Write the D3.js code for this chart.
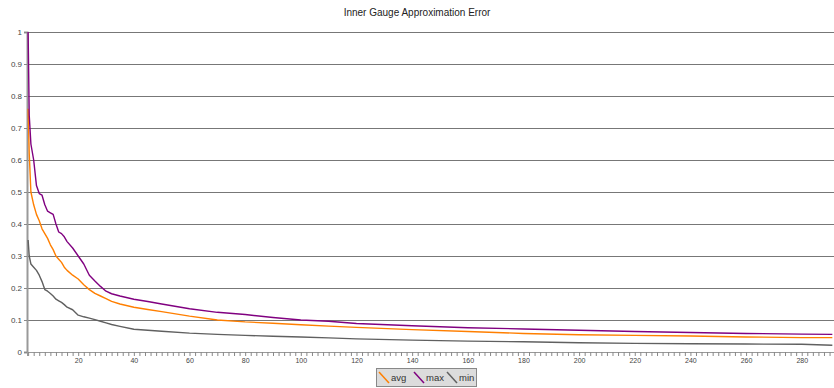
<!DOCTYPE html>
<html>
<head>
<meta charset="utf-8">
<script src="https://cdn.jsdelivr.net/npm/d3@7"></script>
<style>
  html, body { margin: 0; padding: 0; background: #fff; }
  svg { display: block; font-family: "Liberation Sans", Arial, sans-serif; }
</style>
</head>
<body>
<svg id="chart" width="834" height="388"></svg>
<script>
const title = "Inner Gauge Approximation Error";
const xs = [2, 2.4, 3, 4, 5, 6, 7, 8, 9, 10, 11, 12, 13, 14, 15, 16, 18, 20, 22, 24, 26, 28, 30, 32, 35, 40, 45, 50, 60, 70, 80, 90, 100, 110, 120, 140, 160, 180, 200, 220, 240, 260, 280, 291];
const avgValues = [0.76, 0.62, 0.50, 0.46, 0.43, 0.41, 0.385, 0.37, 0.355, 0.335, 0.32, 0.30, 0.29, 0.28, 0.265, 0.255, 0.24, 0.228, 0.21, 0.195, 0.183, 0.175, 0.167, 0.158, 0.15, 0.14, 0.133, 0.126, 0.112, 0.10, 0.094, 0.09, 0.085, 0.081, 0.077, 0.07, 0.064, 0.058, 0.054, 0.052, 0.050, 0.047, 0.045, 0.045];
const maxValues = [1.0, 0.74, 0.65, 0.60, 0.52, 0.495, 0.49, 0.46, 0.44, 0.435, 0.43, 0.40, 0.375, 0.37, 0.36, 0.345, 0.325, 0.30, 0.275, 0.24, 0.222, 0.205, 0.19, 0.182, 0.175, 0.165, 0.158, 0.15, 0.135, 0.124, 0.117, 0.108, 0.100, 0.096, 0.089, 0.082, 0.076, 0.072, 0.068, 0.064, 0.061, 0.058, 0.056, 0.055];
const minValues = [0.35, 0.30, 0.275, 0.265, 0.255, 0.24, 0.22, 0.195, 0.19, 0.183, 0.175, 0.165, 0.16, 0.155, 0.148, 0.14, 0.132, 0.115, 0.11, 0.106, 0.101, 0.096, 0.091, 0.086, 0.08, 0.071, 0.068, 0.065, 0.059, 0.055, 0.052, 0.049, 0.047, 0.044, 0.041, 0.037, 0.034, 0.032, 0.029, 0.027, 0.026, 0.025, 0.024, 0.021];
const yTicks = [0, 0.1, 0.2, 0.3, 0.4, 0.5, 0.6, 0.7, 0.8, 0.9, 1];
const yTickLabels = ["0", "0.1", "0.2", "0.3", "0.4", "0.5", "0.6", "0.7", "0.8", "0.9", "1"];
const xLabelTicks = [20, 40, 60, 80, 100, 120, 140, 160, 180, 200, 220, 240, 260, 280];
const seriesNames = ["avg", "max", "min"];
const seriesColors = ["#ff7f00", "#800080", "#606060"];

const svg = d3.select("#chart");
const plotLeft = 27, plotRight = 834, plotTop = 32, plotBottom = 352;

const x = d3.scaleLinear().domain([1.6, 291.6]).range([plotLeft, plotRight]);
const y = d3.scaleLinear().domain([0, 1]).range([plotBottom, plotTop]);

// title
svg.append("text").attr("x", 417).attr("y", 16).attr("text-anchor", "middle")
  .attr("font-size", 10).attr("fill", "#222").text(title);

// gridlines
svg.append("g").selectAll("line").data(yTicks.filter(d => d > 0)).join("line")
  .attr("x1", plotLeft).attr("x2", plotRight)
  .attr("y1", d => Math.round(y(d)) + 0.5).attr("y2", d => Math.round(y(d)) + 0.5)
  .attr("stroke", "#777").attr("stroke-width", 1);

// y axis
const yAxis = d3.axisLeft(y).tickValues(yTicks).tickSize(3).tickPadding(2)
  .tickFormat((d, i) => yTickLabels[i]);
const gy = svg.append("g").attr("transform", `translate(${plotLeft},0)`).call(yAxis);
gy.select(".domain").attr("stroke", "#999").attr("stroke-width", 2);
gy.selectAll(".tick line").attr("stroke", "#888");
gy.selectAll(".tick text").attr("font-size", 8).attr("fill", "#444")
  .attr("font-family", "Liberation Sans, Arial, sans-serif");

// x axis minor ticks
const minorTicks = d3.range(2, 292, 2);
const xAxisMinor = d3.axisBottom(x).tickValues(minorTicks).tickSize(4).tickFormat("");
const gxm = svg.append("g").attr("transform", `translate(0,${plotBottom})`).call(xAxisMinor);
gxm.select(".domain").attr("stroke", "#999").attr("stroke-width", 1);
gxm.selectAll(".tick line").attr("stroke", "#888");

const xAxis = d3.axisBottom(x).tickValues(xLabelTicks).tickSize(0).tickPadding(6);
const gx = svg.append("g").attr("transform", `translate(0,${plotBottom})`).call(xAxis);
gx.select(".domain").remove();
gx.selectAll(".tick text").attr("font-size", 7).attr("fill", "#444")
  .attr("font-family", "Liberation Sans, Arial, sans-serif");

// series
const allSeries = [avgValues, maxValues, minValues];
const line = d3.line().x((d, i) => x(xs[i])).y(d => y(d));
[2, 0, 1].forEach(k => {
  svg.append("path").datum(allSeries[k]).attr("d", line)
    .attr("fill", "none").attr("stroke", seriesColors[k]).attr("stroke-width", 1.4)
    .attr("stroke-linejoin", "round");
});

// legend
const lg = svg.append("g");
lg.append("rect").attr("x", 376.5).attr("y", 368.5).attr("width", 100).attr("height", 18)
  .attr("fill", "#dcdcdc").attr("stroke", "#888");
const itemX = [379, 414, 447];
seriesNames.forEach((n, i) => {
  lg.append("line").attr("x1", itemX[i]).attr("y1", 372).attr("x2", itemX[i] + 10).attr("y2", 383)
    .attr("stroke", seriesColors[i]).attr("stroke-width", 1.5);
  lg.append("text").attr("x", itemX[i] + 12).attr("y", 381).attr("font-size", 9.5)
    .attr("fill", "#333").text(n);
});
</script>
</body>
</html>
